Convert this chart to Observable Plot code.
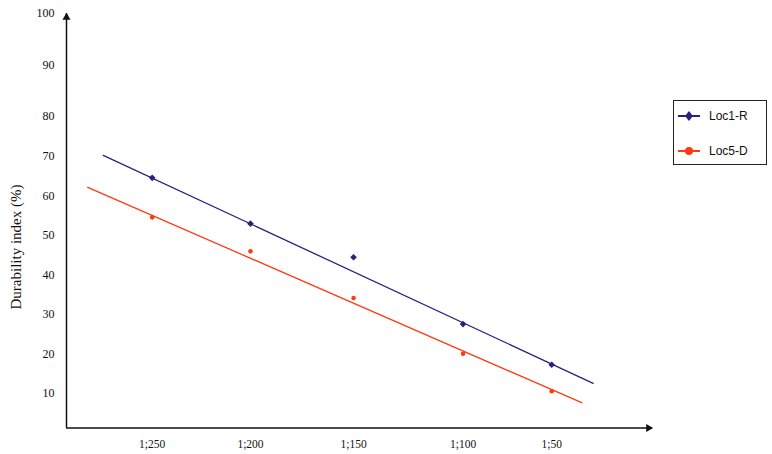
<!DOCTYPE html>
<html><head><meta charset="utf-8">
<script src="https://cdn.jsdelivr.net/npm/d3@7"></script>
<script src="https://cdn.jsdelivr.net/npm/@observablehq/plot@0.6"></script>
<style>
html,body{margin:0;padding:0;background:#fff;}
#wrap{position:relative;width:772px;height:454px;overflow:hidden;}
#legend{position:absolute;left:673px;top:100px;width:94px;height:65px;border:1.5px solid #222;box-sizing:border-box;font:12px "Liberation Sans",Arial,sans-serif;color:#111;background:#fff;}
#legend .row{position:absolute;left:4px;height:16px;display:flex;align-items:center;}
#legend svg{margin-right:9px;}
#ytitle{position:absolute;left:16px;top:247px;transform:translate(-50%,-50%) rotate(-90deg);white-space:nowrap;font:15px "Liberation Serif","Times New Roman",serif;color:#111;}
</style>
</head><body>
<div id="wrap"><div id="chart"></div><div id="ytitle"></div><div id="legend"></div></div>
<script>
// ---- data ----
const categories = ["1;250", "1;200", "1;150", "1;100", "1;50"];
const categoryPos = [1, 1.984, 3.016, 4.112, 5.0];      // position of each dilution along the x axis
const loc1R = [64.6, 53.0, 44.5, 27.6, 17.3];
const loc5D = [54.6, 46.0, 34.2, 20.1, 10.6];
const loc1RTrendX = [0.51, 5.415];
const loc1RTrendY = [70.3, 12.6];
const loc5DTrendX = [0.355, 5.30];
const loc5DTrendY = [62.2, 7.7];
const yTicks = [10, 20, 30, 40, 50, 60, 70, 80, 90, 100];
const yTitle = "Durability index (%)";
const seriesNames = ["Loc1-R", "Loc5-D"];
const seriesColors = ["#2e1f7f", "#ff3a12"];

// axis extents (the printed y scale is stretched above 70)
const xDomain = [0.142, 6.009];
const yStops = [1.3, 70, 80, 90, 100];
const yStopPos = [0, 271.5, 311.5, 362.5, 414.5];
const yWarp = d3.scaleLinear().domain(yStops).range(yStopPos);
const yTickPos = yTicks.map(yWarp);

const pts = [];
categories.forEach((c, i) => {
  pts.push({s: seriesNames[0], x: categoryPos[i], y: loc1R[i]});
  pts.push({s: seriesNames[1], x: categoryPos[i], y: loc5D[i]});
});
const trend = [
  ...loc1RTrendX.map((x, i) => ({s: seriesNames[0], x, y: loc1RTrendY[i]})),
  ...loc5DTrendX.map((x, i) => ({s: seriesNames[1], x, y: loc5DTrendY[i]}))
];

const chart = Plot.plot({
  width: 772, height: 454,
  marginLeft: 66, marginRight: 120, marginTop: 13, marginBottom: 26.5,
  style: {fontFamily: "'Liberation Serif', 'Times New Roman', serif", fontSize: "12px", color: "#111", background: "#fff"},
  x: {domain: xDomain},
  y: {type: "linear", transform: yWarp, domain: [yStopPos[0], yStopPos[yStopPos.length - 1]]},
  color: {domain: seriesNames, range: seriesColors},
  marks: [
    Plot.axisY({ticks: yTickPos, tickSize: 0, tickPadding: 12, fontSize: 12,
      tickFormat: d => String(yTicks[yTickPos.indexOf(d)]), label: null}),
    Plot.axisX({ticks: categoryPos, tickSize: 0, tickPadding: 12, fontSize: 11.5,
      tickFormat: d => categories[categoryPos.indexOf(d)], label: null}),
    Plot.line(trend, {x: "x", y: "y", z: "s", stroke: "s", strokeWidth: 1.3}),
    Plot.dot(pts.filter(d => d.s === seriesNames[0]), {x: "x", y: "y", symbol: "diamond2", r: 3, fill: "s", stroke: "none"}),
    Plot.dot(pts.filter(d => d.s === seriesNames[1]), {x: "x", y: "y", symbol: "circle", r: 2.3, fill: "s", stroke: "none"}),
    Plot.ruleX([xDomain[0]], {y1: yStops[0], y2: 100, stroke: "#111", strokeWidth: 1.5}),
    Plot.ruleY([yStops[0]], {x1: xDomain[0], x2: xDomain[1], stroke: "#111", strokeWidth: 1.5}),
    Plot.dot([{x: xDomain[0], y: 100}], {x: "x", y: "y", symbol: "triangle", r: 3, fill: "#111", dy: 4}),
    Plot.dot([{x: xDomain[1], y: yStops[0]}], {x: "x", y: "y", symbol: "triangle", r: 3, fill: "#111", rotate: 90, dx: -4})
  ]
});
document.getElementById("chart").appendChild(chart);
document.getElementById("ytitle").textContent = yTitle;

// legend
const lg = document.getElementById("legend");
seriesNames.forEach((n, i) => {
  const row = document.createElement("div");
  row.className = "row";
  row.style.top = (i === 0 ? 7 : 42) + "px";
  const marker = i === 0
    ? `<path d="M11 3 L15 8 L11 13 L7 8 Z" fill="${seriesColors[i]}"/>`
    : `<circle cx="11" cy="8" r="4" fill="${seriesColors[i]}"/>`;
  row.innerHTML = `<svg width="22" height="16"><line x1="0" x2="22" y1="8" y2="8" stroke="${seriesColors[i]}" stroke-width="2"/>${marker}</svg><span>${n}</span>`;
  lg.appendChild(row);
});
</script>
</body></html>
